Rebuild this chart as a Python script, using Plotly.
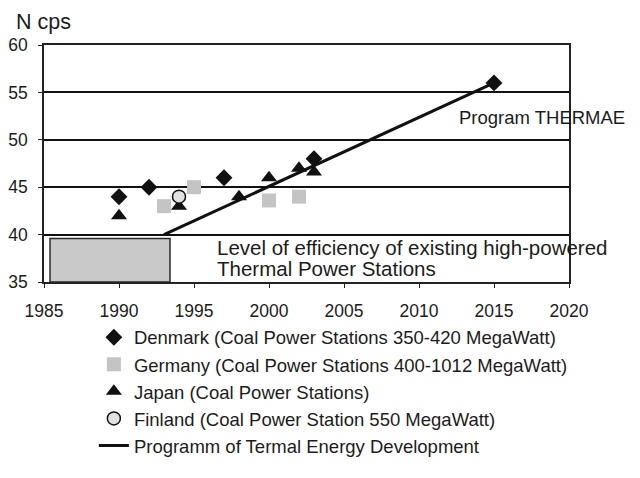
import plotly.graph_objects as go

# Data
denmark_years = [1990, 1992, 1997, 2003, 2015]
denmark_vals = [44, 45, 46, 48, 56]

germany_years = [1993, 1995, 2000, 2002]
germany_vals = [43, 45, 43.6, 44]

japan_years = [1990, 1994, 1998, 2000, 2002, 2003]
japan_vals = [42, 43, 44, 46, 47, 46.6]

finland_years = [1994]
finland_vals = [44]

program_years = [1993, 2015]
program_vals = [40, 56]

# existing stations efficiency band
band_years = [1985.4, 1993.4]
band_vals = [35, 39.6]

TEXT = '#1c1c1c'
FONT = 'Liberation Sans, Arial, sans-serif'

fig = go.Figure()

fig.add_shape(
    type='rect', xref='x', yref='y',
    x0=band_years[0], x1=band_years[1], y0=band_vals[0], y1=band_vals[1],
    fillcolor='#c9c9c9', line=dict(color='#2a2a2a', width=1.5), layer='above'
)

fig.add_trace(go.Scatter(
    x=denmark_years, y=denmark_vals, mode='markers',
    name='Denmark (Coal Power Stations 350-420 MegaWatt)',
    marker=dict(symbol='diamond', size=13, color='#111111')
))
fig.add_trace(go.Scatter(
    x=germany_years, y=germany_vals, mode='markers',
    name='Germany (Coal Power Stations 400-1012 MegaWatt)',
    marker=dict(symbol='square', size=14, color='#c4c4c4')
))
fig.add_trace(go.Scatter(
    x=japan_years, y=japan_vals, mode='markers',
    name='Japan (Coal Power Stations)',
    marker=dict(symbol='triangle-up', size=14, color='#111111')
))
fig.add_trace(go.Scatter(
    x=finland_years, y=finland_vals, mode='markers',
    name='Finland (Coal Power Station 550 MegaWatt)',
    marker=dict(symbol='circle', size=13, color='#e2e2e2',
                line=dict(color='#111111', width=1.5))
))
fig.add_trace(go.Scatter(
    x=program_years, y=program_vals, mode='lines',
    name='Programm of Termal Energy Development',
    line=dict(color='#111111', width=3)
))

fig.add_annotation(
    x=2012.55, y=52.37, xref='x', yref='y', text='Program THERMAE',
    showarrow=False, xanchor='left', yanchor='middle',
    font=dict(size=18.5, color=TEXT, family=FONT)
)
fig.add_annotation(
    x=1996.4, y=38.68, xref='x', yref='y',
    text='Level of efficiency of existing high-powered',
    showarrow=False, xanchor='left', yanchor='middle',
    font=dict(size=20.5, color=TEXT, family=FONT)
)
fig.add_annotation(
    x=1996.4, y=36.47, xref='x', yref='y',
    text='Thermal Power Stations',
    showarrow=False, xanchor='left', yanchor='middle',
    font=dict(size=20.5, color=TEXT, family=FONT)
)
fig.add_annotation(
    x=-0.058, y=1.099, xref='paper', yref='paper', text='N cps',
    showarrow=False, xanchor='left', yanchor='middle',
    font=dict(size=21.5, color=TEXT, family=FONT)
)

# page body adds an 8px margin, so the figure is sized to avoid scrollbars
fig.update_layout(
    width=632, height=462,
    paper_bgcolor='white', plot_bgcolor='white',
    font=dict(family=FONT, size=17.5, color=TEXT),
    margin=dict(l=36, r=71, t=36.5, b=188, autoexpand=False),
    showlegend=True,
    legend=dict(
        x=0.095, y=-0.155, xanchor='left', yanchor='top',
        font=dict(size=18.5, color=TEXT),
        bgcolor='rgba(0,0,0,0)'
    ),
    xaxis=dict(
        range=[1985, 2020], dtick=5, showgrid=False, zeroline=False, automargin=False,
        showline=True, linecolor='#222222', linewidth=1.5, mirror=True,
        ticks='outside', ticklen=4, tickcolor='#222222', ticklabelstandoff=8,
        tickfont=dict(size=17.5, color=TEXT)
    ),
    yaxis=dict(
        range=[35, 60], dtick=5, showgrid=True, gridcolor='#111111', gridwidth=1.5,
        zeroline=False, automargin=False,
        showline=True, linecolor='#222222', linewidth=1.5, mirror=True,
        ticks='outside', ticklen=4, tickcolor='#222222', ticklabelstandoff=7,
        tickfont=dict(size=17.5, color=TEXT)
    )
)

fig.write_html('out.html')
